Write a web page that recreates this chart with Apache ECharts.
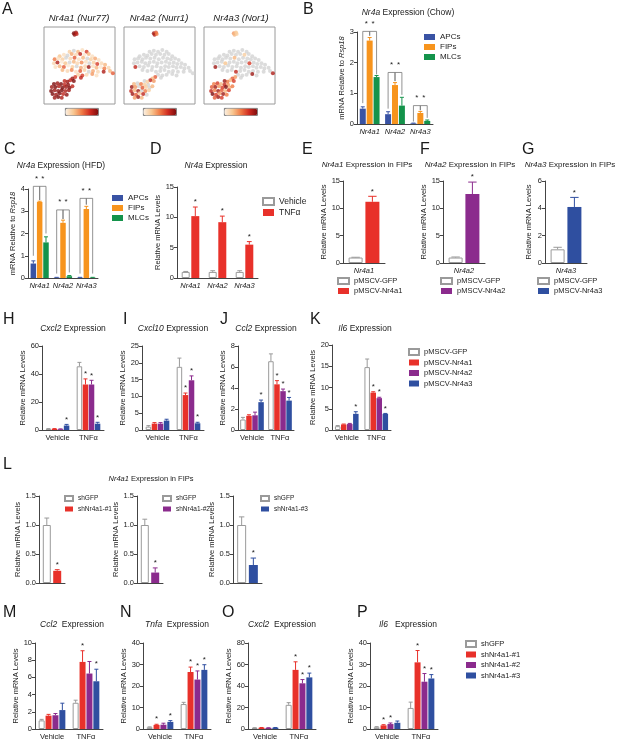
<!DOCTYPE html>
<html lang="en">
<head>
<meta charset="UTF-8" />
<title>Nr4a expression figure</title>
<script src="https://cdn.jsdelivr.net/npm/echarts@6/dist/echarts.min.js"></script>
<style>body{margin:0;background:#fff}</style>
</head>
<body>
<div id="main" style="width:617px;height:747px"></div>
<script>
// ---------- data ----------
// A: t-SNE layout (shared by the three maps) and per-gene expression (0 = not detected)
var tsnePts = [
  [42,92],[45,93],[43,90],[46,91],
  [36,68],[42,69],[48,68],[54,70],[60,68],
  [22,62],[28,64],[33,63],[39,65],[45,64],[51,65],[57,64],[63,65],[68,62],
  [15,58],[20,59],[26,58],[31,60],[37,59],[43,60],[49,58],[55,60],[61,59],[66,58],[72,59],[77,57],
  [14,53],[19,54],[25,55],[30,53],[36,54],[42,55],[47,53],[53,54],[59,55],[64,53],[70,54],[75,52],[81,53],[86,51],
  [16,48],[22,49],[28,48],[34,50],[40,48],[46,49],[52,47],[58,49],[63,48],[69,49],[74,47],[80,48],[85,46],[91,47],
  [26,44],[33,43],[39,44],[45,42],[51,43],[57,44],[63,42],[69,43],[76,42],[84,42],[93,43],[97,40],
  [48,38],[54,37],[60,38],[68,39],[74,37],
  [52,34],
  [44,35],[40,33],[37,31],[42,30],[33,29],[29,30],
  [14,26],[19,27],[24,26],[29,25],[34,25],
  [11,22],[16,22],[21,23],[26,21],[31,22],[36,21],[40,23],
  [10,17],[15,18],[20,17],[25,18],[30,17],[35,18],
  [12,13],[17,12],[22,14],[27,13],[32,12],
  [15,8],[20,9],[25,8]
];
var nr4a1Vals = [1,0.9,0.95,0.8,
  0.2,0,0.3,0.1,0.7,
  0.25,0.1,0,0.35,0.15,0.8,0.05,0.3,0.1,
  0.5,0.1,0.2,0,0.15,0.6,0.1,0.3,0,0.2,0.35,0.1,
  0.15,0.85,0.05,0.25,0,0.3,0.15,0.45,0.1,0,0.2,0.7,0.15,0.3,
  0.1,0.3,0.6,0.05,0.2,0,0.35,0.15,0.9,0.1,0.3,0.05,0.5,0.15,
  0.3,0.15,0.45,0.1,0.6,0.2,0,0.35,0.15,0.85,0.3,0.6,
  0.2,0.7,0.15,0.4,0.1,
  0.8,
  0.7,0.9,0.8,1,0.9,0.8,
  1,0.9,1,0.8,0.95,
  0.9,1,0.85,1,0.9,1,0.8,
  1,0.9,0.95,1,0.85,0.9,
  1,0.9,1,0.8,0.95,
  0.9,1,0.85];
var nr4a2Vals = [0.9,0.6,0.85,0.5,
  0,0,0,0,0,
  0,0,0,0,0,0,0,0,0,
  0,0,0,0,0,0,0,0,0,0,0,0,
  0,0,0,0,0,0,0,0,0,0,0,0,0,0,
  0.8,0,0,0,0,0,0,0,0,0,0,0,0,0,
  0,0,0,0,0,0,0,0,0,0,0,0,
  0,0,0,0,0,
  0,
  0.6,0.3,0.8,0.4,0.2,0,
  0.3,0,0.5,0.2,0,
  0.9,0.4,0,0.6,0.2,0,0.3,
  0.8,0.3,0.9,0,0.5,0.2,
  0.9,0.6,0.2,0.8,0,
  0.4,0.9,0.3];
var nr4a3Vals = [0.4,0.25,0.3,0.2,
  0,0,0,0,0,
  0,0,0,0,0,0,0.2,0,0,
  0,0,0,0,0,0.3,0,0,0,0,0,0,
  0,0,0,0.25,0,0,0,0,0,0.7,0,0,0,0,
  0.9,0,0,0,0,0,0,0,0,0,0,0,0,0,
  0,0,0,0.8,0,0,0,0,0,0,0,0.85,
  0,0,0,0.9,0,
  0,
  0.4,0.6,0.3,0.7,0.5,0.9,
  0.5,0.7,0.3,0.8,0.4,
  0.6,0.9,0.4,0.7,1,0.3,0.5,
  0.8,0.5,0.9,0.6,0.3,0.7,
  1,0.7,0.4,0.9,0.5,
  0.6,0.9,0.7];

// B, C: cell types x genes
var geneCats = ['Nr4a1', 'Nr4a2', 'Nr4a3'];
var cellTypes = ['APCs', 'FIPs', 'MLCs'];
var chowMean = [[0.5, 0.32, 0.02], [2.72, 1.27, 0.36], [1.53, 0.6, 0.1]];
var chowErr = [[0.06, 0.08, 0.01], [0.1, 0.08, 0.05], [0.05, 0.27, 0.03]];
// [gene, from, to, top, foot from, foot to]
var chowBrackets = [[0,0,1,3.02,0.68,2.88],[0,1,2,3.02,2.88,1.62],
  [1,0,1,1.68,0.5,1.4],[1,1,2,1.68,1.4,0.95],
  [2,0,1,0.6,0.08,0.45],[2,1,2,0.6,0.45,0.2]];
var hfdMean = [[0.65, 0.02, 0.02], [3.42, 2.48, 3.1], [1.6, 0.08, 0.02]];
var hfdErr = [[0.12, 0.01, 0.01], [0.03, 0.12, 0.12], [0.25, 0.03, 0.01]];
var hfdBrackets = [[0,0,1,4.12,1.0,3.5],[0,1,2,4.12,3.5,2.0],
  [1,0,1,3.06,0.2,2.65],[1,1,2,3.06,2.65,0.25],
  [2,0,1,3.58,0.2,3.3],[2,1,2,3.58,3.3,0.2]];

// D: TNFa treatment
var treatNames = ['Vehicle', 'TNFα'];
var dMean = [[1.0, 1.0, 1.0], [10.2, 9.2, 5.5]];
var dErr = [[0.08, 0.2, 0.2], [1.5, 1.0, 0.5]];
var dStar = [[0, 0, 0], [1, 1, 1]];

// E-G: overexpression in FIPs
var eMean = [[1.0], [11.2]], eErr = [[0.05], [1.0]];
var fMean = [[1.0], [12.6]], fErr = [[0.1], [2.2]];
var gMean = [[1.0], [4.1]], gErr = [[0.15], [0.7]];

// H-K: overexpression, vehicle vs TNFa
var condCats = ['Vehicle', 'TNFα'];
var oeNames = ['pMSCV-GFP', 'pMSCV-Nr4a1', 'pMSCV-Nr4a2', 'pMSCV-Nr4a3'];
var hMean = [[0.8, 45.5], [0.8, 32.5], [0.6, 32.5], [3.2, 4.5]];
var hErr = [[0.2, 2.8], [0.2, 4.0], [0.2, 3.0], [0.8, 1.0]];
var hStar = [[0, 0], [0, 1], [0, 1], [1, 1]];
var iMean = [[1.0, 18.8], [1.9, 10.4], [1.9, 14.8], [2.8, 2.0]];
var iErr = [[0.3, 2.6], [0.3, 0.6], [0.3, 1.3], [0.4, 0.3]];
var iStar = [[0, 0], [0, 1], [0, 1], [0, 1]];
var jMean = [[1.0, 6.55], [1.35, 4.35], [1.4, 3.7], [2.65, 2.8]];
var jErr = [[0.2, 0.7], [0.1, 0.35], [0.3, 0.2], [0.2, 0.3]];
var jStar = [[0, 0], [0, 1], [0, 1], [1, 1]];
var kMean = [[0.9, 14.8], [1.3, 8.8], [1.4, 7.5], [3.8, 3.8]];
var kErr = [[0.15, 1.9], [0.1, 0.2], [0.15, 0.2], [0.5, 0.1]];
var kStar = [[0, 0], [0, 1], [0, 1], [1, 1]];

// L: knockdown
var l1Mean = [[1.0], [0.21]], l1Err = [[0.12], [0.02]];
var l2Mean = [[1.0], [0.18]], l2Err = [[0.1], [0.08]];
var l3Mean = [[1.0], [0.31]], l3Err = [[0.14], [0.12]];

// M-P: knockdown, vehicle vs TNFa
var shNames = ['shGFP', 'shNr4a1-#1', 'shNr4a1-#2', 'shNr4a1-#3'];
var mMean = [[1.0, 3.05], [1.55, 7.8], [1.6, 6.45], [2.2, 5.55]];
var mErr = [[0.12, 0.3], [0.15, 1.3], [0.2, 1.4], [0.8, 1.4]];
var mStar = [[0, 0], [0, 1], [0, 0], [0, 1]];
var nMean = [[0.8, 11.6], [1.9, 26.5], [2.0, 23], [3.3, 27.5]];
var nErr = [[0.2, 0.8], [0.3, 2.3], [0.7, 4], [0.6, 2.4]];
var nStar = [[0, 0], [1, 1], [0, 1], [1, 1]];
var oMean = [[1.0, 22.5], [1.2, 55], [1.0, 42.5], [1.2, 48]];
var oErr = [[0.2, 2], [0.2, 7.5], [0.2, 3.5], [0.2, 4]];
var oStar = [[0, 0], [0, 1], [0, 1], [0, 1]];
var pMean = [[0.8, 9.8], [1.7, 31], [2.3, 22], [2.9, 23.5]];
var pErr = [[0.3, 2.7], [0.3, 5.5], [0.5, 3.8], [0.8, 1.8]];
var pStar = [[0, 0], [1, 1], [1, 1], [0, 1]];

// ---------- styles ----------
var FF = 'Liberation Sans, Arial, sans-serif';
var WHITE = '#ffffff', RED = '#e8312a', PURPLE = '#8b2b8d', BLUE = '#2f4fa0';
var C_APC = '#3953a4', C_FIP = '#f7941d', C_MLC = '#14934b';
var heatColors = ['#fbefe2', '#f8c690', '#f07a45', '#cf2a20', '#7c0d0d'];

var option = {
  animation: false,
  textStyle: {fontFamily: FF},
  title: [], grid: [], xAxis: [], yAxis: [], series: [], legend: [], visualMap: []
};

function addTitle(text, x, y, size, align) {
  option.title.push({
    text: text, left: x, top: y, padding: 0, textAlign: align || 'left',
    textStyle: {fontSize: size, fontWeight: 'normal', color: '#1a1a1a', fontFamily: FF,
      rich: {i: {fontStyle: 'italic', fontSize: size, color: '#1a1a1a', fontFamily: FF}}}
  });
}

function addLegend(names, left, top, gap, iw, ih, fs) {
  option.legend.push({
    data: names, orient: 'vertical', left: left, top: top, padding: 0,
    itemGap: gap, itemWidth: iw, itemHeight: ih, icon: 'rect', selectedMode: false,
    textStyle: {fontSize: fs, color: '#222', fontFamily: FF}
  });
}

function barOffset(n, i, w, gap) {
  var total = n * w + (n - 1) * w * gap;
  return -total / 2 + i * w * (1 + gap) + w / 2;
}

function errItem(off, col, cap) {
  return function (params, api) {
    var c = api.coord([api.value(0), api.value(1)]);
    var t = api.coord([api.value(0), api.value(1) + api.value(2)]);
    var x = c[0] + off;
    var kids = [
      {type: 'line', shape: {x1: x, y1: c[1], x2: x, y2: t[1]}, style: {stroke: col, lineWidth: 1}},
      {type: 'line', shape: {x1: x - cap, y1: t[1], x2: x + cap, y2: t[1]}, style: {stroke: col, lineWidth: 1}}
    ];
    if (api.value(3)) {
      kids.push({type: 'text', x: x, y: t[1] - 1,
        style: {text: '*', fontSize: 8, fill: '#222', align: 'center', verticalAlign: 'bottom', fontFamily: FF}});
    }
    return {type: 'group', children: kids};
  };
}

function bracketItem(n, w, gap) {
  return function (params, api) {
    var cat = api.value(0);
    var top = api.coord([cat, api.value(3)]);
    var xa = top[0] + barOffset(n, api.value(1), w, gap);
    var xb = top[0] + barOffset(n, api.value(2), w, gap);
    var ya = api.coord([cat, api.value(4)])[1];
    var yb = api.coord([cat, api.value(5)])[1];
    return {type: 'group', children: [
      {type: 'polyline', shape: {points: [[xa, ya], [xa, top[1]], [xb, top[1]], [xb, yb]]},
        style: {stroke: '#777', fill: null, lineWidth: 0.8}},
      {type: 'text', x: (xa + xb) / 2, y: top[1] - 4,
        style: {text: '*', fontSize: 8, fill: '#222', align: 'center', verticalAlign: 'bottom', fontFamily: FF}}
    ]};
  };
}

function barPanel(o) {
  var g = option.grid.length;
  var n = o.names.length;
  option.grid.push({left: o.rect[0], top: o.rect[1], width: o.rect[2], height: o.rect[3]});
  option.xAxis.push({
    type: 'category', gridIndex: g, data: o.cats,
    axisLine: {lineStyle: {color: '#444'}},
    axisTick: {alignWithLabel: true, length: 3, lineStyle: {color: '#444'}},
    axisLabel: {fontSize: 7.5, color: '#222', margin: 4, interval: 0,
      fontStyle: o.italic ? 'italic' : 'normal', fontFamily: FF}
  });
  option.yAxis.push({
    type: 'value', gridIndex: g, min: 0, max: o.max, interval: o.step,
    name: o.yName || 'Relative mRNA Levels', nameLocation: 'middle', nameGap: o.nameGap,
    nameTextStyle: {fontSize: 7.5, color: '#222', fontFamily: FF,
      rich: {i: {fontStyle: 'italic', fontSize: 7.5, color: '#222', fontFamily: FF}}},
    axisLine: {show: true, lineStyle: {color: '#444'}},
    axisTick: {show: true, length: 3, lineStyle: {color: '#444'}},
    axisLabel: {fontSize: 7.5, color: '#222', margin: 3, formatter: o.fmt, fontFamily: FF},
    splitLine: {show: false}
  });
  o.names.forEach(function (nm, i) {
    var col = o.colors[i];
    option.series.push({
      type: 'bar', name: nm, xAxisIndex: g, yAxisIndex: g, data: o.means[i],
      barWidth: o.barW, barGap: (o.gap * 100) + '%',
      itemStyle: col === WHITE ? {color: '#fff', borderColor: '#9a9a9a', borderWidth: 1} : {color: col},
      silent: true
    });
  });
  o.names.forEach(function (nm, i) {
    var col = o.colors[i] === WHITE ? '#9a9a9a' : o.colors[i];
    option.series.push({
      type: 'custom', xAxisIndex: g, yAxisIndex: g, silent: true, z: 3,
      encode: {x: 0, y: 1},
      data: o.means[i].map(function (v, k) {
        return [k, v, o.errs[i][k], o.stars ? o.stars[i][k] : 0];
      }),
      renderItem: errItem(barOffset(n, i, o.barW, o.gap), col, Math.max(2, o.barW * 0.3))
    });
  });
  if (o.brackets) {
    option.series.push({
      type: 'custom', xAxisIndex: g, yAxisIndex: g, silent: true, z: 4,
      encode: {x: 0, y: 3}, data: o.brackets,
      renderItem: bracketItem(n, o.barW, o.gap)
    });
  }
}

function tsnePanel(rect, vals, barLeft, barTop) {
  var g = option.grid.length;
  option.grid.push({left: rect[0], top: rect[1], width: rect[2], height: rect[3],
    show: true, borderColor: '#9a9a9a', borderWidth: 1, backgroundColor: 'transparent'});
  option.xAxis.push({type: 'value', gridIndex: g, min: 0, max: 100, show: false});
  option.yAxis.push({type: 'value', gridIndex: g, min: 0, max: 100, show: false});
  var off = [], on = [];
  tsnePts.forEach(function (p, k) {
    if (vals[k] > 0) on.push([p[0], p[1], vals[k]]); else off.push([p[0], p[1], 0]);
  });
  option.series.push({type: 'scatter', xAxisIndex: g, yAxisIndex: g, data: off,
    symbolSize: 4, itemStyle: {color: '#d3d3d3'}, silent: true});
  option.series.push({type: 'scatter', xAxisIndex: g, yAxisIndex: g, data: on,
    symbolSize: 4, silent: true, z: 3});
  option.visualMap.push({
    type: 'continuous', min: 0, max: 1, dimension: 2, seriesIndex: option.series.length - 1,
    orient: 'horizontal', left: barLeft, top: barTop, itemWidth: 7, itemHeight: 33,
    calculable: false, hoverLink: false, padding: 0, borderColor: '#555', borderWidth: 0.8,
    inRange: {color: heatColors}
  });
}

// ---------- panel letters ----------
[['A', 2, 2], ['B', 303, 2], ['C', 4, 142], ['D', 150, 142], ['E', 302, 142], ['F', 420, 142],
 ['G', 522, 142], ['H', 3, 312], ['I', 123, 312], ['J', 220, 312], ['K', 310, 312],
 ['L', 3, 457], ['M', 3, 605], ['N', 120, 605], ['O', 222, 605], ['P', 357, 605]
].forEach(function (l) { addTitle(l[0], l[1], l[2], 16); });

// ---------- A ----------
addTitle('{i|Nr4a1 (Nur77)}', 79, 13, 9.5, 'center');
addTitle('{i|Nr4a2 (Nurr1)}', 159, 13, 9.5, 'center');
addTitle('{i|Nr4a3 (Nor1)}', 241, 13, 9.5, 'center');
tsnePanel([44, 27, 71, 77], nr4a1Vals, 65, 108);
tsnePanel([124, 27, 71, 77], nr4a2Vals, 143, 108);
tsnePanel([204, 27, 71, 77], nr4a3Vals, 224, 108);

// ---------- B ----------
addTitle('{i|Nr4a} Expression (Chow)', 408, 8, 8.5, 'center');
barPanel({rect: [357, 32, 76, 92], cats: geneCats, italic: true, names: cellTypes,
  colors: [C_APC, C_FIP, C_MLC], means: chowMean, errs: chowErr, brackets: chowBrackets,
  max: 3, step: 1, barW: 6, gap: 0.15, nameGap: 11, yName: 'mRNA Relative to {i|Rsp18}'});
addLegend(cellTypes, 424, 33, 2, 11, 6, 8);

// ---------- C ----------
addTitle('{i|Nr4a} Expression (HFD)', 61, 161, 8.5, 'center');
barPanel({rect: [28, 189, 70, 89], cats: geneCats, italic: true, names: cellTypes,
  colors: [C_APC, C_FIP, C_MLC], means: hfdMean, errs: hfdErr, brackets: hfdBrackets,
  max: 4, step: 1, barW: 5.5, gap: 0.15, nameGap: 11, yName: 'mRNA Relative to {i|Rsp18}'});
addLegend(cellTypes, 112, 194, 2, 11, 6, 8);

// ---------- D ----------
addTitle('{i|Nr4a} Expression', 216, 161, 8.5, 'center');
barPanel({rect: [177, 187, 81, 91], cats: geneCats, italic: true, names: treatNames,
  colors: [WHITE, RED], means: dMean, errs: dErr, stars: dStar,
  max: 15, step: 5, barW: 8, gap: 0.2, nameGap: 13});
addLegend(treatNames, 262, 197, 2, 11, 7, 8.5);

// ---------- E-G ----------
addTitle('{i|Nr4a1} Expression in FIPs', 367, 161, 8, 'center');
barPanel({rect: [343, 181, 42, 82], cats: ['Nr4a1'], italic: true, names: ['pMSCV-GFP', 'pMSCV-Nr4a1'],
  colors: [WHITE, RED], means: eMean, errs: eErr, stars: [[0], [1]],
  max: 15, step: 5, barW: 14, gap: 0.2, nameGap: 12});
addLegend(['pMSCV-GFP', 'pMSCV-Nr4a1'], 337, 277, 2, 11, 6, 7.5);

addTitle('{i|Nr4a2} Expression in FIPs', 470, 161, 8, 'center');
barPanel({rect: [443, 181, 42, 82], cats: ['Nr4a2'], italic: true, names: ['pMSCV-GFP', 'pMSCV-Nr4a2'],
  colors: [WHITE, PURPLE], means: fMean, errs: fErr, stars: [[0], [1]],
  max: 15, step: 5, barW: 14, gap: 0.2, nameGap: 12});
addLegend(['pMSCV-GFP', 'pMSCV-Nr4a2'], 440, 277, 2, 11, 6, 7.5);

addTitle('{i|Nr4a3} Expression in FIPs', 570, 161, 8, 'center');
barPanel({rect: [545, 181, 42, 82], cats: ['Nr4a3'], italic: true, names: ['pMSCV-GFP', 'pMSCV-Nr4a3'],
  colors: [WHITE, BLUE], means: gMean, errs: gErr, stars: [[0], [1]],
  max: 6, step: 2, barW: 14, gap: 0.2, nameGap: 12});
addLegend(['pMSCV-GFP', 'pMSCV-Nr4a3'], 537, 277, 2, 11, 6, 7.5);

// ---------- H-K ----------
var oeColors = [WHITE, RED, PURPLE, BLUE];
addTitle('{i|Cxcl2} Expression', 73, 324, 8.5, 'center');
barPanel({rect: [42, 346, 62, 84], cats: condCats, names: oeNames, colors: oeColors,
  means: hMean, errs: hErr, stars: hStar, max: 60, step: 20, barW: 5.5, gap: 0.1, nameGap: 13});
addTitle('{i|Cxcl10} Expression', 173, 324, 8.5, 'center');
barPanel({rect: [142, 346, 62, 84], cats: condCats, names: oeNames, colors: oeColors,
  means: iMean, errs: iErr, stars: iStar, max: 25, step: 5, barW: 5.5, gap: 0.1, nameGap: 13});
addTitle('{i|Ccl2} Expression', 266, 324, 8.5, 'center');
barPanel({rect: [238, 346, 56, 84], cats: condCats, names: oeNames, colors: oeColors,
  means: jMean, errs: jErr, stars: jStar, max: 8, step: 2, barW: 5.5, gap: 0.1, nameGap: 11});
addTitle('{i|Il6} Expression', 365, 324, 8.5, 'center');
barPanel({rect: [332, 345, 59, 85], cats: condCats, names: oeNames, colors: oeColors,
  means: kMean, errs: kErr, stars: kStar, max: 20, step: 5, barW: 5.5, gap: 0.1, nameGap: 13});
addLegend(oeNames, 408, 348, 2.5, 10, 6, 7.5);

// ---------- L ----------
var fmt1 = function (v) { return v.toFixed(1); };
addTitle('{i|Nr4a1} Expression in FIPs', 151, 475, 7.5, 'center');
barPanel({rect: [39, 496, 26, 87], cats: [''], names: ['shGFP', 'shNr4a1-#1'], colors: [WHITE, RED],
  means: l1Mean, errs: l1Err, stars: [[0], [1]], max: 1.5, step: 0.5, barW: 8, gap: 0.3, nameGap: 15, fmt: fmt1});
addLegend(['shGFP', 'shNr4a1-#1'], 64, 495, 3.5, 8, 5, 6.5);
barPanel({rect: [137, 496, 26, 87], cats: [''], names: ['shGFP', 'shNr4a1-#2'], colors: [WHITE, PURPLE],
  means: l2Mean, errs: l2Err, stars: [[0], [1]], max: 1.5, step: 0.5, barW: 8, gap: 0.3, nameGap: 15, fmt: fmt1});
addLegend(['shGFP', 'shNr4a1-#2'], 162, 495, 3.5, 8, 5, 6.5);
barPanel({rect: [233, 496, 29, 87], cats: [''], names: ['shGFP', 'shNr4a1-#3'], colors: [WHITE, BLUE],
  means: l3Mean, errs: l3Err, stars: [[0], [1]], max: 1.5, step: 0.5, barW: 9, gap: 0.3, nameGap: 15, fmt: fmt1});
addLegend(['shGFP', 'shNr4a1-#3'], 260, 495, 3.5, 8, 5, 6.5);

// ---------- M-P ----------
addTitle('{i|Ccl2}  Expression', 72, 620, 8.5, 'center');
barPanel({rect: [35, 643, 68, 86], cats: condCats, names: shNames, colors: oeColors,
  means: mMean, errs: mErr, stars: mStar, max: 10, step: 2, barW: 6, gap: 0.15, nameGap: 13});
addTitle('{i|Tnfa}  Expression', 177, 620, 8.5, 'center');
barPanel({rect: [143, 643, 68, 86], cats: condCats, names: shNames, colors: oeColors,
  means: nMean, errs: nErr, stars: nStar, max: 40, step: 10, barW: 6, gap: 0.15, nameGap: 13});
addTitle('{i|Cxcl2}  Expression', 282, 620, 8.5, 'center');
barPanel({rect: [248, 643, 68, 86], cats: condCats, names: shNames, colors: oeColors,
  means: oMean, errs: oErr, stars: oStar, max: 80, step: 20, barW: 6, gap: 0.15, nameGap: 13});
addTitle('{i|Il6}   Expression', 408, 620, 8.5, 'center');
barPanel({rect: [370, 643, 68, 86], cats: condCats, names: shNames, colors: oeColors,
  means: pMean, errs: pErr, stars: pStar, max: 40, step: 10, barW: 6, gap: 0.15, nameGap: 13});
addLegend(shNames, 465, 640, 2.5, 10, 6, 7.5);

var myChart = echarts.init(document.getElementById('main'));
myChart.setOption(option);
</script>
</body>
</html>
